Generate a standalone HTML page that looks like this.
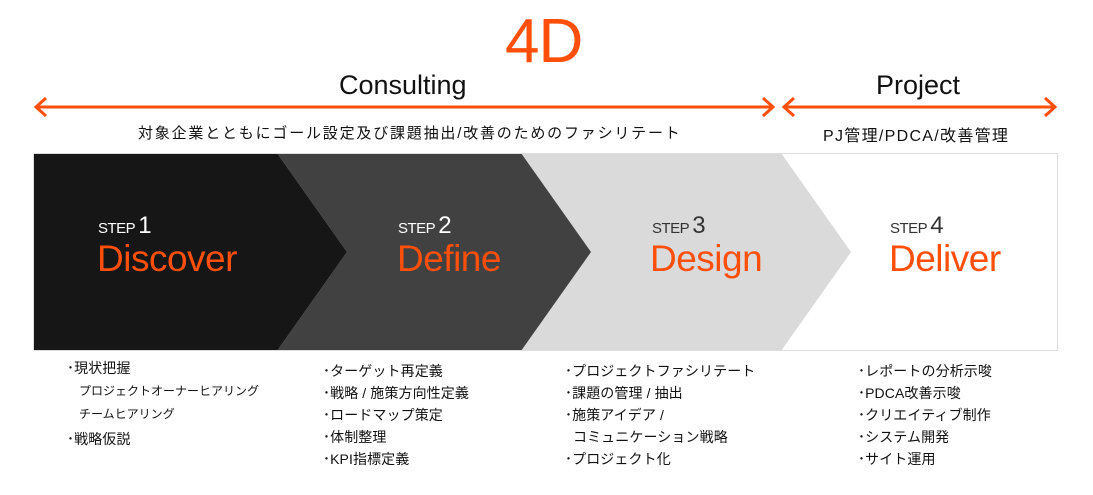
<!DOCTYPE html>
<html><head><meta charset="utf-8"><style>
body{margin:0;width:1093px;height:495px;background:#fff;position:relative;overflow:hidden;font-family:"Liberation Sans","Noto Sans CJK JP",sans-serif;color:#111}
.a{position:absolute;white-space:nowrap}
.step{font-size:15px;letter-spacing:-0.5px}
.step b{font-weight:normal;font-size:24px;margin-left:3px}
.big{font-size:37px;color:#ff4f0a;letter-spacing:-0.5px}
.l{font-size:14px;line-height:22px;letter-spacing:0.1px}
.s{font-size:12px;margin-left:12px;letter-spacing:0}
</style></head><body>
<svg class="a" style="left:0;top:0" width="1093" height="495">
<polygon points="521,153 781,153 851,252 781,351 521,351 591,252" fill="#dadada"/>
<polygon points="277,153 521,153 591,252 521,351 277,351 347,252" fill="#414141"/>
<polygon points="33,153 277,153 347,252 277,351 33,351" fill="#161616"/>
<rect x="33.5" y="153.5" width="1024" height="197" fill="none" stroke="#ddd"/>
<g stroke="#ff4f0a" stroke-width="3" fill="none">
<line x1="37" y1="107" x2="773" y2="107"/>
<polyline points="46,98 36,107 46,116"/>
<polyline points="763,98 773,107 763,116"/>
<line x1="784" y1="107" x2="1055" y2="107"/>
<polyline points="794,98 784,107 794,116"/>
<polyline points="1045,98 1055,107 1045,116"/>
</g>
</svg>
<div class="a" style="left:505px;top:6px;font-size:62px;color:#ff4f0a;letter-spacing:-1px">4D</div>
<div class="a" style="left:339px;top:70px;font-size:27px">Consulting</div>
<div class="a" style="left:876px;top:70px;font-size:27px">Project</div>
<div class="a" style="left:138px;top:122px;font-size:15px;letter-spacing:1.8px">対象企業とともにゴール設定及び課題抽出/改善のためのファシリテート</div>
<div class="a" style="left:823px;top:122px;font-size:16px;letter-spacing:1.3px">PJ管理/PDCA/改善管理</div>

<div class="a step" style="left:98px;top:212px;color:#fff">STEP<b>1</b></div>
<div class="a big" style="left:97px;top:238px">Discover</div>
<div class="a step" style="left:398px;top:212px;color:#fff">STEP<b>2</b></div>
<div class="a big" style="left:397px;top:238px">Define</div>
<div class="a step" style="left:652px;top:212px;color:#333">STEP<b>3</b></div>
<div class="a big" style="left:650px;top:238px">Design</div>
<div class="a step" style="left:890px;top:212px;color:#333">STEP<b>4</b></div>
<div class="a big" style="left:889px;top:238px">Deliver</div>

<div class="a l" style="left:67px;top:357px">･現状把握<br><span class="s">プロジェクトオーナーヒアリング</span><br><span class="s">チームヒアリング</span><br><span style="display:inline-block;margin-top:3px">･戦略仮説</span></div>
<div class="a l" style="left:323px;top:360px">･ターゲット再定義<br>･戦略 / 施策方向性定義<br>･ロードマップ策定<br>･体制整理<br>･KPI指標定義</div>
<div class="a l" style="left:565px;top:360px">･プロジェクトファシリテート<br>･課題の管理 / 抽出<br>･施策アイデア /<br>&nbsp;&nbsp;コミュニケーション戦略<br>･プロジェクト化</div>
<div class="a l" style="left:858px;top:360px">･レポートの分析示唆<br>･PDCA改善示唆<br>･クリエイティブ制作<br>･システム開発<br>･サイト運用</div>
</body></html>
